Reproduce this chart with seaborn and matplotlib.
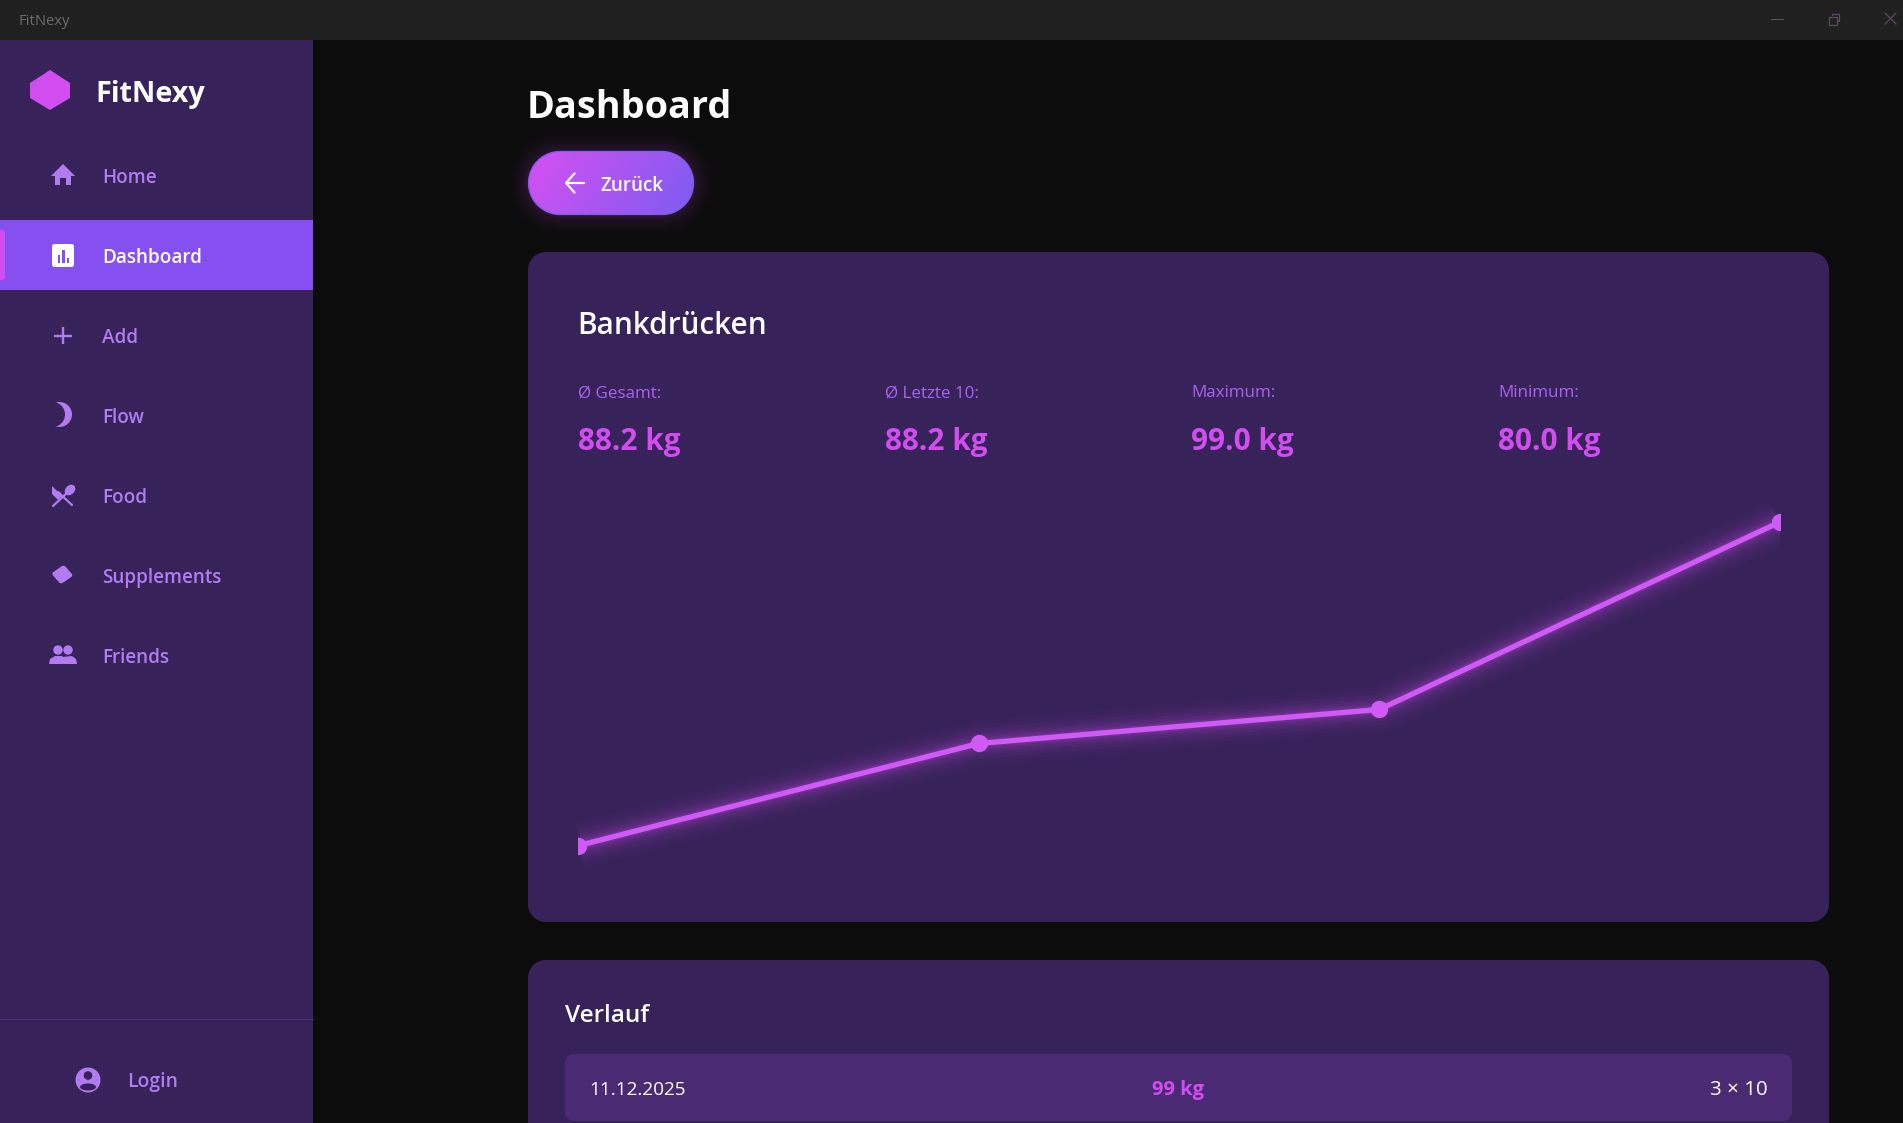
import numpy as np
import pandas as pd
import matplotlib
matplotlib.use("Agg")
import matplotlib.pyplot as plt
import seaborn as sns
from matplotlib.patches import Polygon, Circle, Ellipse, Rectangle
from matplotlib.transforms import Affine2D

# chart values
sessions = [0, 1, 2, 3]
weights = [80.0, 86.0, 88.0, 99.0]

nav_labels = ["Home", "Dashboard", "Add", "Flow", "Food", "Supplements", "Friends"]
stat_labels = ["Ø Gesamt:", "Ø Letzte 10:", "Maximum:", "Minimum:"]
stat_values = ["88.2 kg", "88.2 kg", "99.0 kg", "80.0 kg"]
history_row = ["11.12.2025", "99 kg", "3 × 10"]

BG = "#0c0c0c"
TITLEBAR = "#202020"
PANEL = "#38225a"
ROW = "#4a2b73"
ACTIVE = "#8650f0"
NAV = "#b07cf0"
STAT = "#a864f0"
MAGENTA = "#d14df0"
LINE = "#cf5af5"
W, H = 1903, 1123

sns.set_theme(style="dark")
plt.rcParams['font.family'] = ['Open Sans', 'DejaVu Sans']

fig = plt.figure(figsize=(W / 100, H / 100), dpi=100, facecolor=BG)
ui = fig.add_axes([0, 0, 1, 1])
ui.set_axis_off()


def box(x0, y0, x1, y1, r, color, z=1, alpha=None, ec="none", lw=0):
    # rounded rect with true circular corners
    pts = []
    for cx, cy, a0 in [(x1 - r, y0 + r, -90), (x1 - r, y1 - r, 0), (x0 + r, y1 - r, 90), (x0 + r, y0 + r, 180)]:
        t = np.radians(np.linspace(a0, a0 + 90, 24))
        pts += list(zip(cx + r * np.cos(t), cy + r * np.sin(t)))
    p = Polygon(pts, closed=True, fc=color, ec=ec, lw=lw, alpha=alpha, zorder=z)
    ui.add_patch(p)
    return p


def label(x, y, s, px, color="white", weight="normal", ha="left"):
    # px is the font size in screen pixels, the shift puts the x-height on the row centre
    ui.text(x, y + px * 0.11, s, fontsize=px * 0.72, color=color, fontweight=weight, ha=ha, va="center", zorder=10)


# window frame
ui.add_patch(Rectangle((0, 0), W, 40, fc=TITLEBAR, ec="none", zorder=2))
label(19, 20, "FitNexy", 14.8, "#6c6c6c")
ui.plot([1771, 1783], [19, 19], color="#5c5064", lw=0.8, zorder=3)
ui.add_patch(Rectangle((1829, 17), 8, 8, fc="none", ec="#5c4a66", lw=0.9, zorder=3))
ui.plot([1832, 1832, 1839, 1839, 1837], [15, 14, 14, 21, 21], color="#5c4a66", lw=0.9, zorder=3)
ui.plot([1885, 1896], [13, 24], color="#5c4a66", lw=0.9, zorder=3)
ui.plot([1885, 1896], [24, 13], color="#5c4a66", lw=0.9, zorder=3)

# sidebar
ui.add_patch(Rectangle((0, 40), 313, H - 40, fc=PANEL, ec="none", zorder=1))
ui.add_patch(Polygon([(50, 70), (70, 83), (70, 98), (50, 110), (30, 98), (30, 83)], fc=MAGENTA, ec="none", zorder=3))
label(95, 91, "FitNexy", 28.7, "white", "bold")

ui.add_patch(Rectangle((0, 220), 313, 70, fc=ACTIVE, ec="none", zorder=2))
box(-6, 230, 5, 280, 3, MAGENTA, z=3)
ui.plot([0, 313], [1019, 1019], color="#53307f", lw=0.8, zorder=2)

for i, name in enumerate(nav_labels):
    active = name == "Dashboard"
    label(102, 175.5 + 80 * i, name, 18.9, "white" if active else NAV, "semibold")
label(127, 1079.5, "Login", 19.3, NAV, "semibold")

# nav icons
ui.add_patch(Polygon([(63, 164), (75, 176), (71, 176), (71, 185), (66, 185), (66, 178), (60, 178), (60, 185),
                      (55, 185), (55, 176), (51, 176)], fc=NAV, ec="none", zorder=3))
box(52, 244, 74, 267, 2.5, "white", z=3)
for bx, by in [(57.5, 255), (62, 250), (66.5, 258)]:
    ui.add_patch(Rectangle((bx, by), 2.6, 263 - by, fc=ACTIVE, ec="none", zorder=4))
ui.plot([63, 63], [327, 344], color=NAV, lw=1.7, zorder=3, solid_capstyle="butt")
ui.plot([54, 72], [335.5, 335.5], color=NAV, lw=1.7, zorder=3, solid_capstyle="butt")
ui.add_patch(Circle((59.5, 414.5), 12.5, fc=NAV, ec="none", zorder=3))
ui.add_patch(Circle((52.5, 414.5), 12.5, fc=PANEL, ec="none", zorder=4))
ui.plot([53, 68], [506, 492], color=NAV, lw=1.6, zorder=3)
ui.add_patch(Ellipse((70, 490), 9, 12, angle=45, fc=NAV, ec="none", zorder=3))
ui.plot([72, 58], [505, 492], color=NAV, lw=1.6, zorder=3)
ui.add_patch(Polygon([(52, 486), (62, 496), (58, 500), (52, 494)], fc=NAV, ec="none", zorder=3))
gem = box(55.5, 568, 70, 582, 2.5, NAV, z=3)
gem.set_transform(Affine2D().translate(-62.75, -575).rotate_deg(-38).scale(1.1, 0.98).translate(62.3, 574.5) + ui.transData)
for cx in [58, 68]:
    ui.add_patch(Circle((cx, 650), 4.7, fc=NAV, ec="none", zorder=3))
ui.add_patch(Polygon([(49, 664), (50, 659), (55, 656), (62, 656), (65, 659), (66, 664)], fc=NAV, ec="none", zorder=3))
ui.add_patch(Polygon([(62, 664), (62, 657), (72, 656), (76, 659), (77, 664)], fc=NAV, ec="none", zorder=3))
ui.add_patch(Circle((88, 1080), 12.5, fc=NAV, ec="none", zorder=3))
ui.add_patch(Circle((88, 1075.5), 4.3, fc=PANEL, ec="none", zorder=4))
ui.add_patch(Ellipse((88, 1087), 16, 7, fc=PANEL, ec="none", zorder=4))

# header and back button
label(527, 104, "Dashboard", 37.8, "white", "bold")
for grow, a in zip([20, 16, 13, 10, 7, 4, 2], [0.012, 0.016, 0.02, 0.024, 0.03, 0.034, 0.04]):
    box(528 - grow, 151 - grow, 694 + grow, 215 + grow, 32 + grow, MAGENTA, z=2, alpha=a)
yy, xx = np.mgrid[0:1:64j, 0:1:166j]
grad = (xx * 0.8 + yy * 0.2)[..., None]
c0, c1 = np.array(matplotlib.colors.to_rgb("#d650f2")), np.array(matplotlib.colors.to_rgb("#7d5cf0"))
im = ui.imshow(c0 + (c1 - c0) * grad, extent=(528, 694, 215, 151), aspect="auto", zorder=3)
btn = box(528.5, 151.5, 693.5, 214.5, 31.5, "none", z=4, ec="#7f5cf0", lw=0.9)
im.set_clip_path(btn)
ui.plot([566, 584], [183, 183], color="white", lw=1.6, zorder=5)
ui.plot([574.5, 566, 574.5], [173.5, 183, 192.5], color="white", lw=1.6, zorder=5)
label(600, 183.5, "Zurück", 18.8, "white", "semibold")

# stats card
box(528, 252, 1829, 922, 18, PANEL, z=1)
label(577, 322.5, "Bankdrücken", 29.8, "white", "semibold")
for x, lab, val in zip([578, 885, 1191, 1498], stat_labels, stat_values):
    label(x, 391.5, lab, 17, STAT)
    label(x, 438.5, val, 29.7, MAGENTA, "bold")

# history card
box(528, 960, 1829, 1160, 18, PANEL, z=1)
label(565, 1013.5, "Verlauf", 24.2, "white", "semibold")
box(565, 1054, 1792, 1121, 9, ROW, z=2)
label(589, 1087.5, history_row[0], 19, "white")
label(1178, 1087.5, history_row[1], 20, MAGENTA, "bold", ha="center")
label(1768, 1087.5, history_row[2], 20.5, "white", ha="right")

ui.set_xlim(0, W)
ui.set_ylim(H, 0)

# weight line, the plot area clips the end markers and the glow like the app does
left, right, top, bottom = 578, 1780, 505, 890
chart = fig.add_axes([left / W, 1 - bottom / H, (right - left) / W, (bottom - top) / H], facecolor="none")
df = pd.DataFrame({"session": sessions, "kg": weights})
for lw, a in [(32, 0.025), (27, 0.03), (22, 0.04), (17, 0.055), (13, 0.07), (9, 0.1), (6, 0.13)]:
    sns.lineplot(data=df, x="session", y="kg", ax=chart, color=MAGENTA, lw=lw, alpha=a, solid_capstyle="butt")
sns.lineplot(data=df, x="session", y="kg", ax=chart, color=LINE, lw=3.8, marker="o", markersize=12.5,
             markeredgewidth=0, solid_capstyle="butt")
chart.set_xlim(0, 3)
chart.set_ylim(77.4, 100)
chart.set_axis_off()

fig.savefig("out.png", dpi=100, facecolor=BG)
